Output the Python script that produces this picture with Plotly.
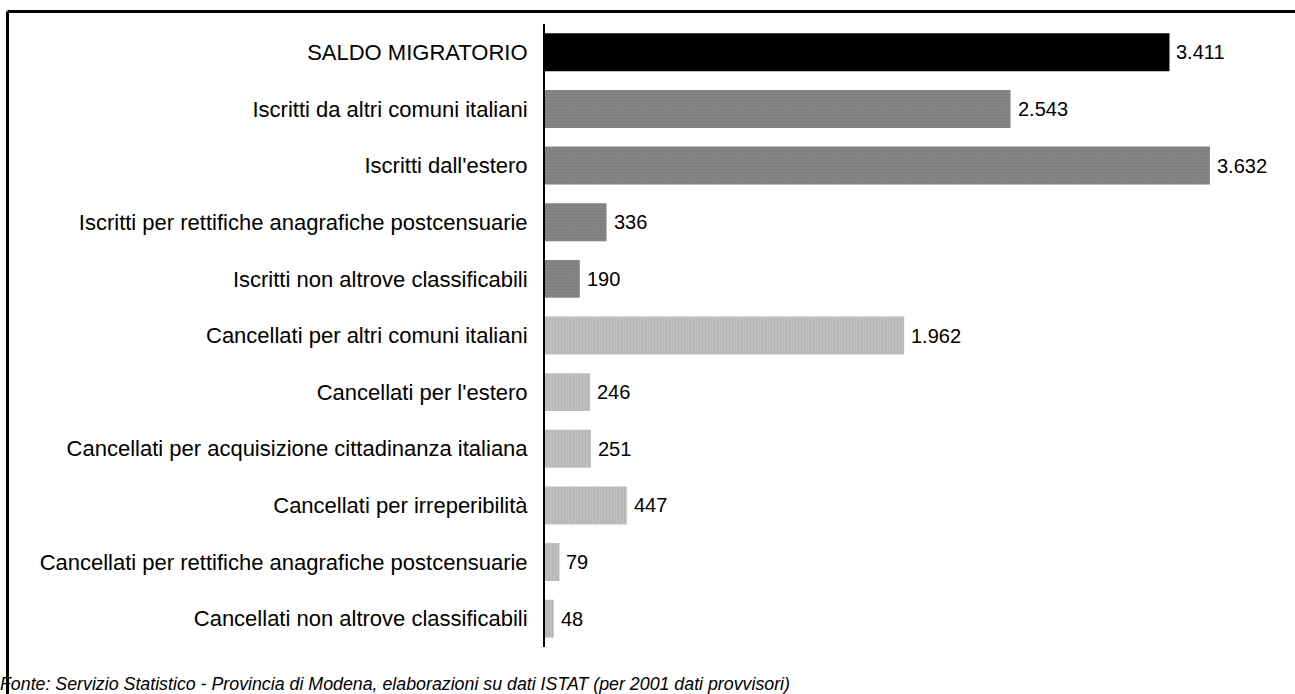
import plotly.graph_objects as go

categories = [
    "SALDO MIGRATORIO",
    "Iscritti da altri comuni italiani",
    "Iscritti dall'estero",
    "Iscritti per rettifiche anagrafiche postcensuarie",
    "Iscritti non altrove classificabili",
    "Cancellati per altri comuni italiani",
    "Cancellati per l'estero",
    "Cancellati per acquisizione cittadinanza italiana",
    "Cancellati per irreperibilità",
    "Cancellati per rettifiche anagrafiche postcensuarie",
    "Cancellati non altrove classificabili",
]
values = [3411, 2543, 3632, 336, 190, 1962, 246, 251, 447, 79, 48]
groups = ["saldo", "iscritti", "iscritti", "iscritti", "iscritti",
          "cancellati", "cancellati", "cancellati", "cancellati", "cancellati", "cancellati"]
source_note = "Fonte: Servizio Statistico - Provincia di Modena, elaborazioni su dati ISTAT (per 2001 dati provvisori)"

W, H = 1295, 694
ML, MR, MT, MB = 545, 36, 24, 47
XMAX = 3900
plot_w = W - ML - MR
plot_h = H - MT - MB
FONT = "Liberation Sans, Arial, sans-serif"

styles = {
    "saldo": dict(color="#000000"),
    "iscritti": dict(color="#808080",
                     pattern=dict(shape=".", fgcolor="#6e6e6e", bgcolor="#868686",
                                  size=3, solidity=0.4)),
    "cancellati": dict(color="#b8b8b8",
                       pattern=dict(shape="|", fgcolor="#a8a8a8", bgcolor="#c0c0c0",
                                    size=3, solidity=0.4)),
}

fig = go.Figure()
for g in ["saldo", "iscritti", "cancellati"]:
    idx = [i for i, gg in enumerate(groups) if gg == g]
    fig.add_trace(go.Bar(
        y=[categories[i] for i in idx],
        x=[values[i] for i in idx],
        orientation="h",
        marker=dict(line=dict(width=0), **styles[g]),
        showlegend=False,
        hoverinfo="x+y",
    ))

# value labels at the end of each bar
for c, v in zip(categories, values):
    fig.add_annotation(
        x=v, y=c, xref="x", yref="y",
        text=f"{v:,}".replace(",", "."),
        showarrow=False, xanchor="left", xshift=5,
        font=dict(family=FONT, size=20, color="#000000"),
    )

# source note
fig.add_annotation(
    x=(-2 - ML) / plot_w, y=(H - MB - 684) / plot_h,
    xref="paper", yref="paper", xanchor="left", yanchor="middle",
    text=f"<i>{source_note}</i>", showarrow=False,
    font=dict(family=FONT, size=17.8, color="#000000"),
)

# outer frame (open on the right and bottom edges)
fx0 = (7.5 - ML) / plot_w
fy0 = (H - MB - 11.5) / plot_h
fig.add_shape(type="line", xref="paper", yref="paper",
              x0=fx0, x1=(W + 10 - ML) / plot_w, y0=fy0, y1=fy0,
              line=dict(color="#000000", width=3))
fig.add_shape(type="line", xref="paper", yref="paper",
              x0=fx0, x1=fx0, y0=fy0, y1=(H - MB - H - 10) / plot_h,
              line=dict(color="#000000", width=3))

fig.update_layout(
    width=W, height=H,
    margin=dict(l=ML, r=MR, t=MT, b=MB),
    paper_bgcolor="#ffffff", plot_bgcolor="#ffffff",
    bargap=0.33,
    font=dict(family=FONT, color="#000000"),
    xaxis=dict(range=[0, XMAX], visible=False, showgrid=False, zeroline=False),
    yaxis=dict(
        categoryorder="array", categoryarray=categories,
        autorange="reversed",
        showline=True, linecolor="#000000", linewidth=2,
        ticks="", ticklabelstandoff=11,
        tickfont=dict(size=22, color="#000000"),
        showgrid=False, zeroline=False,
    ),
)

fig.write_html("out.html")
